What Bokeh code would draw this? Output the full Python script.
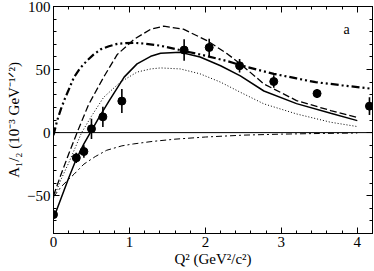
from bokeh.plotting import figure
from bokeh.models import (Span, Label, SingleIntervalTicker, LinearAxis,
                          CustomJSTickFormatter, Range1d)
from bokeh.embed import file_html
from bokeh.resources import INLINE

FONT = "Liberation Serif"

# ---- data ----
pts_x = [0.0, 0.3, 0.4, 0.5, 0.65, 0.9, 1.72, 2.05, 2.45, 2.9, 3.47, 4.16]
pts_y = [-65, -20, -15, 3, 12.5, 25, 65.5, 67.5, 53, 40.5, 31, 21]
pts_err = [2, 4, 5, 8, 8, 9.5, 8.5, 7, 5.3, 5, 3.6, 7]

solid_x = [0.0, 0.1, 0.2, 0.3, 0.4, 0.5, 0.6, 0.73, 0.93, 1.1, 1.28, 1.41, 1.67,
           1.93, 2.2, 2.46, 2.77, 3.2, 3.65, 4.0]
solid_y = [-68, -52, -36, -21, -9, 1.5, 12, 25, 44, 54.5, 60.5, 63, 63.7,
           60, 53, 45, 33, 23, 15.3, 9.5]

dash_x = [0.0, 0.1, 0.2, 0.31, 0.46, 0.66, 0.84, 1.06, 1.28, 1.45, 1.71, 2.02,
          2.29, 2.46, 2.77, 3.2, 3.65, 4.0]
dash_y = [-50, -33, -17, 0, 22, 44, 62, 74, 82, 84.4, 82, 73,
          62.4, 54.5, 38.6, 25.4, 17.5, 12]

dot_x = [0.0, 0.1, 0.2, 0.3, 0.37, 0.5, 0.66, 0.88, 1.1, 1.28, 1.41, 1.67, 1.93,
         2.2, 2.46, 2.77, 3.2, 3.65, 4.0]
dot_y = [-52, -37, -24, -10, 0, 13, 28, 40, 48, 50.5, 51.3, 50.5, 46.6,
         40, 32, 22.8, 14.8, 8.2, 4.8]

dd_x = [0.0, 0.05, 0.1, 0.15, 0.2, 0.27, 0.35, 0.44, 0.53, 0.62, 0.73, 0.84,
        0.95, 1.06, 1.2, 1.4, 1.7, 2.0, 2.3, 2.55, 2.9, 3.2, 3.45, 3.8, 4.2]
dd_y = [-2, 10, 19, 27, 34, 44, 51, 57, 62, 66, 68.5, 70.4,
        71, 71.2, 70.6, 69, 65, 61, 56.5, 52, 46.6, 43, 40, 37.5, 34.7]

dashdot_x = [0.0, 0.1, 0.2, 0.27, 0.4, 0.55, 0.7, 0.9, 1.05, 1.3, 1.6, 2.0,
             2.5, 3.0, 3.5, 4.0]
dashdot_y = [-51, -43, -37, -33, -25, -19, -14, -10.5, -9, -7, -5.2, -3.5,
             -2, -1.2, -0.7, -0.3]

x_ticks_major = 1
y_ticks_major = 50

p = figure(width=374, height=271, x_range=Range1d(0, 4.2), y_range=Range1d(-80, 100),
           output_backend="svg", toolbar_location=None,
           min_border_left=53, min_border_right=2, min_border_top=6, min_border_bottom=38)
p.xgrid.visible = False
p.ygrid.visible = False
p.outline_line_color = "black"
p.outline_line_width = 1
p.background_fill_color = "white"
p.border_fill_color = "white"

bottom = p.xaxis[0]
left = p.yaxis[0]

bottom.ticker = SingleIntervalTicker(interval=x_ticks_major, num_minor_ticks=5)
left.ticker = SingleIntervalTicker(interval=y_ticks_major, num_minor_ticks=5)

top = LinearAxis(ticker=SingleIntervalTicker(interval=x_ticks_major, num_minor_ticks=5),
                 formatter=CustomJSTickFormatter(code="return ''"))
right = LinearAxis(ticker=SingleIntervalTicker(interval=y_ticks_major, num_minor_ticks=5),
                   formatter=CustomJSTickFormatter(code="return ''"))
p.add_layout(top, "above")
p.add_layout(right, "right")

for ax in [bottom, left, top, right]:
    ax.axis_line_color = "black"
    ax.major_tick_in = 6
    ax.major_tick_out = 0
    ax.minor_tick_in = 3
    ax.minor_tick_out = 0
    ax.major_tick_line_color = "black"
    ax.minor_tick_line_color = "black"
    ax.major_label_text_font = FONT
    ax.major_label_text_color = "black"
    ax.major_label_text_font_size = "15px"
    ax.axis_label_text_font = FONT
    ax.axis_label_text_font_style = "normal"
    ax.axis_label_text_color = "black"
    ax.axis_label_text_font_size = "15px"

top.major_label_standoff = 0
right.major_label_standoff = 0
top.major_label_text_font_size = "1px"
right.major_label_text_font_size = "1px"

bottom.major_label_standoff = 3
left.major_label_standoff = 3
bottom.axis_label_standoff = 1
left.axis_label_standoff = 2
bottom.axis_label = "Q² (GeV²/c²)"
left.axis_label = "A₁/₂ (10⁻³ GeV⁻¹ᐟ²)"

p.add_layout(Span(location=0, dimension="width", line_color="black", line_width=1))

p.line(dd_x, dd_y, line_color="black", line_width=2.2, line_dash="8 3 2 3 2 3")
p.line(dashdot_x, dashdot_y, line_color="black", line_width=1, line_dash="6 3 2 3")
p.line(dot_x, dot_y, line_color="black", line_width=1, line_dash="1 2")
p.line(dash_x, dash_y, line_color="black", line_width=1.3, line_dash="7 3")
p.line(solid_x, solid_y, line_color="black", line_width=1.5)

lo = [y - e for y, e in zip(pts_y, pts_err)]
hi = [y + e for y, e in zip(pts_y, pts_err)]
p.segment(x0=pts_x, y0=lo, x1=pts_x, y1=hi, line_color="black", line_width=1.6)
p.scatter(pts_x, pts_y, size=8, marker="circle", fill_color="black", line_color="black")

p.add_layout(Label(x=3.86, y=82, text="a", text_font=FONT, text_font_size="14px",
                   text_align="center", text_baseline="middle", text_color="black"))

open("out.html", "w").write(file_html(p, INLINE))
